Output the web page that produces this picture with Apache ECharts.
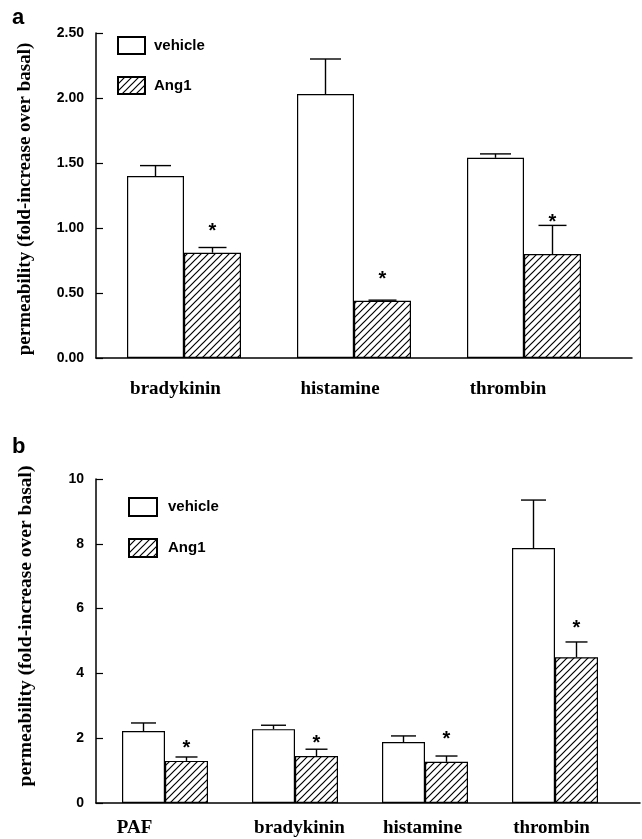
<!DOCTYPE html>
<html><head><meta charset="utf-8">
<script src="https://cdn.jsdelivr.net/npm/echarts@6.0.0/dist/echarts.min.js"></script>
<style>html,body{margin:0;padding:0;background:#fff}#c{width:642px;height:839px}</style>
</head><body><div id="c"></div>
<script>
// ---- Panel a data ----
const catsA = ['bradykinin', 'histamine', 'thrombin'];
const vehicleA = [1.40, 2.03, 1.54];
const vehicleSemA = [0.08, 0.27, 0.03];
const ang1A = [0.81, 0.44, 0.80];
const ang1SemA = [0.04, 0.005, 0.22];
const starA = [1.01, 0.64, 1.08];
// ---- Panel b data ----
const catsB = ['PAF', 'bradykinin', 'histamine', 'thrombin'];
const vehicleB = [2.22, 2.28, 1.88, 7.87];
const vehicleSemB = [0.25, 0.12, 0.19, 1.48];
const ang1B = [1.30, 1.45, 1.27, 4.50];
const ang1SemB = [0.12, 0.21, 0.18, 0.47];
const starB = [1.85, 2.00, 2.10, 5.55];
const legendNames = ['vehicle', 'Ang1'];
const yNameText = 'permeability (fold-increase over basal)';

const SANS = "'Liberation Sans', Arial, sans-serif";
const SERIF = "'Liberation Serif', 'Times New Roman', serif";

// hatch pattern
const pc = document.createElement('canvas');
pc.width = 7; pc.height = 7;
const ctx = pc.getContext('2d');
ctx.fillStyle = '#fff'; ctx.fillRect(0, 0, 7, 7);
ctx.strokeStyle = '#000'; ctx.lineWidth = 1.2;
ctx.beginPath();
ctx.moveTo(-1, 8); ctx.lineTo(8, -1);
ctx.moveTo(-4.5, 4.5); ctx.lineTo(4.5, -4.5);
ctx.moveTo(2.5, 11.5); ctx.lineTo(11.5, 2.5);
ctx.stroke();
const hatch = { image: pc, repeat: 'repeat' };

function barSeries(name, xi, vals, barW, hatched) {
  return {
    type: 'bar', name, xAxisIndex: xi, yAxisIndex: xi, data: vals,
    barWidth: barW, barGap: '0%',
    itemStyle: { color: hatched ? hatch : '#fff', borderColor: '#000', borderWidth: 1.2 },
    emphasis: { disabled: true }, silent: true
  };
}

function errSeries(xi, vals, sems, stars, side, barW, capW) {
  const data = vals.map((v, i) => [i, v, v + sems[i], stars ? stars[i] : v]);
  return {
    type: 'custom', xAxisIndex: xi, yAxisIndex: xi, silent: true, z: 5,
    encode: { x: 0, y: [1, 2] },
    data,
    renderItem(params, api) {
      const i = api.value(0);
      const base = api.coord([i, api.value(1)]);
      const top = api.coord([i, api.value(2)]);
      const x = base[0] + side * barW / 2;
      const ls = { stroke: '#000', lineWidth: 1.4 };
      const children = [
        { type: 'line', shape: { x1: x, y1: base[1], x2: x, y2: top[1] }, style: ls },
        { type: 'line', shape: { x1: x - capW / 2, y1: top[1], x2: x + capW / 2, y2: top[1] }, style: ls }
      ];
      if (stars) {
        const s = api.coord([i, api.value(3)]);
        children.push({ type: 'text', x: x, y: s[1] + 5,
          style: { text: '*', font: 'bold 20px ' + SANS, align: 'center', verticalAlign: 'middle', fill: '#000' } });
      }
      return { type: 'group', children };
    }
  };
}

function catAxis(gi, cats, pads, margin) {
  return {
    type: 'category', gridIndex: gi,
    data: cats.map((c, i) => ({ value: c, textStyle: { padding: pads[i] } })),
    axisLine: { show: false }, axisTick: { show: false },
    axisLabel: { margin, color: '#000', fontFamily: SERIF, fontWeight: 'bold', fontSize: 19 }
  };
}
function lineAxis(gi) {
  return {
    type: 'value', gridIndex: gi, min: 0, max: 1,
    axisLine: { show: true, lineStyle: { color: '#000', width: 1.5 } },
    axisTick: { show: false }, axisLabel: { show: false }, splitLine: { show: false }
  };
}
function valAxis(gi, max, interval, dec, fs) {
  return {
    type: 'value', gridIndex: gi, min: 0, max, interval, offset: 3,
    axisLine: { show: true, lineStyle: { color: '#000', width: 1.5 } },
    axisTick: { show: true, inside: true, length: 7, lineStyle: { color: '#000', width: 1.2 } },
    splitLine: { show: false },
    axisLabel: { margin: 12, color: '#000', fontFamily: SANS, fontWeight: 'bold', fontSize: fs,
      formatter: v => v.toFixed(dec) }
  };
}

const legendText = { fontFamily: SANS, fontWeight: 'bold', fontSize: 15, color: '#000' };
const option = {
  backgroundColor: '#fff',
  animation: false,
  grid: [
    { left: 99, top: 33, width: 510, height: 325 },
    { left: 100, top: 479, width: 520, height: 324 },
    { left: 96, top: 33, width: 536, height: 325 },
    { left: 96, top: 479, width: 544, height: 324 }
  ],
  xAxis: [
    catAxis(0, catsA, [[0, 17, 0, 0], [0, 28, 0, 0], [0, 32, 0, 0]], 22),
    catAxis(1, catsB, [[0, 61, 0, 0], [0, 0, 0, 9], [0, 5, 0, 0], [0, 7, 0, 0]], 16),
    lineAxis(2), lineAxis(3)
  ],
  yAxis: [
    valAxis(0, 2.5, 0.5, 2, 14),
    Object.assign(valAxis(1, 10, 2, 0, 14), { offset: 4 }),
    { type: 'value', gridIndex: 2, show: false },
    { type: 'value', gridIndex: 3, show: false }
  ],
  legend: [
    { data: legendNames, left: 117, top: 36, orient: 'vertical', itemGap: 21, itemWidth: 27, itemHeight: 17,
      padding: 0, selectedMode: false, icon: 'rect',
      textStyle: Object.assign({ padding: [0, 0, 0, 4] }, legendText) },
    { data: legendNames, left: 128, top: 497, orient: 'vertical', itemGap: 21, itemWidth: 28, itemHeight: 18,
      padding: 0, selectedMode: false, icon: 'rect',
      textStyle: Object.assign({ padding: [0, 0, 0, 6] }, legendText) }
  ],
  graphic: [
    { type: 'text', x: 12, y: 29, style: { text: 'a', font: 'bold 22px ' + SANS, fill: '#000', verticalAlign: 'bottom' } },
    { type: 'text', x: 12, y: 458, style: { text: 'b', font: 'bold 22px ' + SANS, fill: '#000', verticalAlign: 'bottom' } },
    { type: 'text', x: 25, y: 199, rotation: Math.PI / 2,
      style: { text: yNameText, font: 'bold 19px ' + SERIF, fill: '#000', align: 'center', verticalAlign: 'middle' } },
    { type: 'text', x: 26, y: 626, rotation: Math.PI / 2,
      style: { text: yNameText, font: 'bold 19.5px ' + SERIF, fill: '#000', align: 'center', verticalAlign: 'middle' } }
  ],
  series: [
    barSeries('vehicle', 0, vehicleA, 57, false),
    barSeries('Ang1', 0, ang1A, 57, true),
    errSeries(0, vehicleA, vehicleSemA, null, -1, 57, 31),
    errSeries(0, ang1A, ang1SemA, starA, 1, 57, 28),
    barSeries('vehicle', 1, vehicleB, 43, false),
    barSeries('Ang1', 1, ang1B, 43, true),
    errSeries(1, vehicleB, vehicleSemB, null, -1, 43, 25),
    errSeries(1, ang1B, ang1SemB, starB, 1, 43, 22)
  ]
};
const chart = echarts.init(document.getElementById('c'), null, { renderer: 'canvas' });
chart.setOption(option);
</script></body></html>
